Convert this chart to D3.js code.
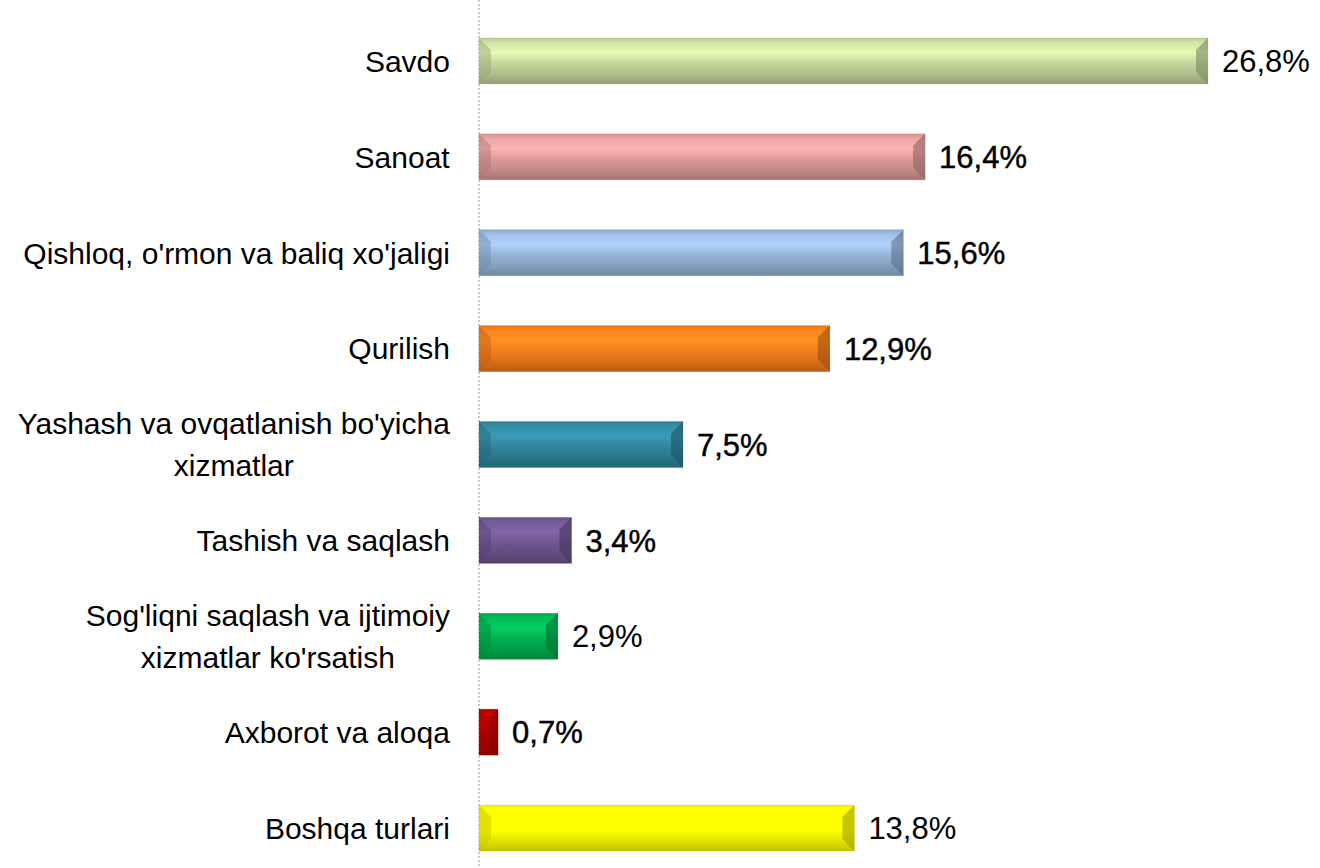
<html lang="en">
  <head>
    <meta charset="utf-8" />
    <title>Sectors</title>
    <script src="https://cdn.jsdelivr.net/npm/d3@7"></script>
    <style>
      body { margin: 0; background: #fff; }
      svg text { font-family: "Liberation Sans", Arial, sans-serif; fill: #000; }
    </style>
  </head>
  <body>
    <script type="text/javascript">
      /*************************** Data ***************************/

      var categories = [
        ["Savdo"],
        ["Sanoat"],
        ["Qishloq, o'rmon va baliq xo'jaligi"],
        ["Qurilish"],
        ["Yashash va ovqatlanish bo'yicha", "xizmatlar"],
        ["Tashish va saqlash"],
        ["Sog'liqni saqlash va ijtimoiy", "xizmatlar ko'rsatish"],
        ["Axborot va aloqa"],
        ["Boshqa turlari"]
      ];
      var values = [26.8, 16.4, 15.6, 12.9, 7.5, 3.4, 2.9, 0.7, 13.8];
      var valueLabels = ["26,8%", "16,4%", "15,6%", "12,9%", "7,5%", "3,4%", "2,9%", "0,7%", "13,8%"];
      var barColors = ["#c3d69b", "#dc9a99", "#95b3d7", "#f47c1c", "#31859c",
                       "#6f5690", "#00b050", "#c00000", "#ffff00"];

      /*************************** Canvas ***************************/

      var width = 1320, height = 868;
      var x0 = 479;

      var svg = d3.select("body").append("svg")
        .attr("width", width).attr("height", height);
      var defs = svg.append("defs");

      var x = d3.scaleLinear().domain([0, 26.8]).range([x0, 1208]);
      var y = d3.scaleBand().domain(d3.range(values.length))
        .range([13, 876]).paddingInner(0.52).paddingOuter(0.26);

      // axis line
      svg.append("line")
        .attr("x1", x0).attr("x2", x0).attr("y1", 0).attr("y2", height)
        .attr("stroke", "#a6a6a6").attr("stroke-width", 1.2)
        .attr("stroke-dasharray", "2,2");

      /*************************** Bars ***************************/

      values.forEach(function (v, i) {
        var c = d3.color(barColors[i]);
        var g = defs.append("linearGradient").attr("id", "g" + i)
          .attr("x1", 0).attr("y1", 0).attr("x2", 0).attr("y2", 1);
        [[0, c.darker(0.15)], [0.1, c.brighter(0.2)], [0.32, c.brighter(0.45)],
         [0.55, c], [0.8, c.darker(0.35)], [1, c.darker(0.8)]].forEach(function (s) {
          g.append("stop").attr("offset", s[0]).attr("stop-color", s[1]);
        });

        var bx0 = x(0), bx1 = x(v), by0 = y(i), by1 = y(i) + y.bandwidth();
        var b = Math.min(12, (bx1 - bx0) / 2);
        var bar = svg.append("g");
        bar.append("rect")
          .attr("x", bx0).attr("y", by0)
          .attr("width", bx1 - bx0).attr("height", by1 - by0)
          .attr("fill", "url(#g" + i + ")");
        // left bevel
        bar.append("polygon")
          .attr("points", [[bx0, by0], [bx0 + b, by0 + b], [bx0 + b, by1 - b], [bx0, by1]].join(" "))
          .attr("fill", c.darker(0.8)).attr("opacity", 0.45);
        // right bevel
        bar.append("polygon")
          .attr("points", [[bx1, by0], [bx1 - b, by0 + b], [bx1 - b, by1 - b], [bx1, by1]].join(" "))
          .attr("fill", c.darker(1.3)).attr("opacity", 0.6);
        bar.append("rect")
          .attr("x", bx0).attr("y", by0)
          .attr("width", bx1 - bx0).attr("height", by1 - by0)
          .attr("fill", "none").attr("stroke", c.darker(1)).attr("stroke-opacity", 0.4)
          .attr("stroke-dasharray", "1,1");

        // value label
        var bold = !(i == 0 || i == 6 || i == 8);
        svg.append("text")
          .attr("x", bx1 + 14).attr("y", by0 + y.bandwidth() / 2)
          .attr("dy", "0.36em")
          .style("font-size", "31px")
          .style("stroke", bold ? "#000" : "none")
          .style("stroke-width", 0.45)
          .text(valueLabels[i]);
      });

      /*************************** Category labels ***************************/

      categories.forEach(function (lines, i) {
        var cy = y(i) + y.bandwidth() / 2;
        var lh = 42;
        var t = svg.append("text")
          .style("font-size", "30px")
          .attr("text-anchor", "middle");
        lines.forEach(function (l, k) {
          t.append("tspan").attr("x", 0)
            .attr("y", cy + (k - (lines.length - 1) / 2) * lh)
            .attr("dy", "0.36em").text(l);
        });
        var w = t.node().getBBox().width;
        t.selectAll("tspan").attr("x", 450 - w / 2);
      });
    </script>
  </body>
</html>
